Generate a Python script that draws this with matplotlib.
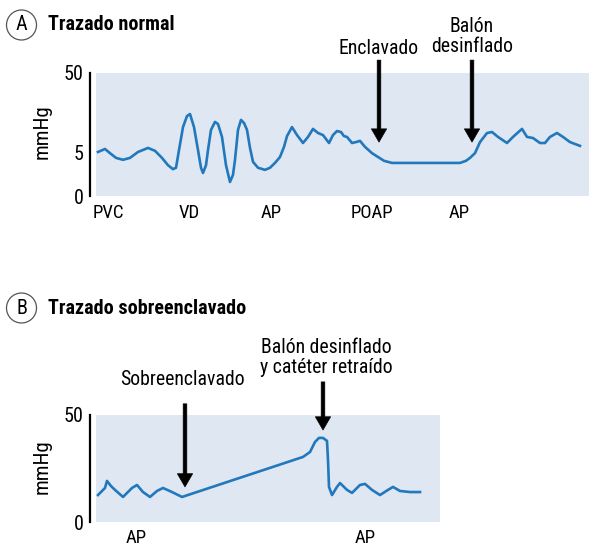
import numpy as np
import matplotlib.pyplot as plt
from matplotlib.patches import Ellipse

plt.rcParams['font.family'] = ['Roboto Condensed', 'PT Sans Narrow', 'DejaVu Sans']

# Normal catheter trace: time (arbitrary units), pressure (mmHg)
t_norm = [2, 9, 14, 20, 27, 34, 42, 52, 59, 66, 72, 77, 80, 83, 87, 91, 94,
          98, 102, 105, 107, 110, 112, 115, 119, 122, 126, 130, 134, 137, 139,
          142, 145, 148, 151, 154, 157, 162, 169, 174, 179, 184, 188, 191, 196,
          201, 207, 212, 217, 222, 227, 233, 237, 241, 245, 248, 251, 256, 260,
          264, 269, 276, 282, 288, 296, 364, 370, 374, 379, 384, 391, 396, 402,
          411, 417, 426, 431, 437, 444, 449, 454, 461, 467, 474, 484]
p_norm = [5.1, 5.9, 4.8, 3.7, 3.3, 3.7, 5.1, 6.2, 5.4, 3.7, 2.3, 1.7, 1.9, 5.6,
          13.8, 19.2, 20.3, 13.8, 5.6, 1.9, 1.2, 2.3, 5.6, 12.6, 16.2, 15.2, 9.8,
          2.3, 0.4, 1.0, 3.3, 12.6, 17.2, 15.7, 12.6, 6.2, 2.9, 1.9, 1.6, 1.9,
          2.7, 3.9, 6.5, 10.1, 13.8, 10.5, 7.7, 9.8, 13.0, 11.3, 10.5, 7.7, 10.5,
          12.1, 11.7, 10.1, 9.8, 7.7, 8.0, 8.4, 6.5, 4.8, 3.9, 3.1, 2.7, 2.7, 3.1,
          3.7, 4.8, 8.0, 11.3, 11.7, 9.8, 7.7, 9.8, 13.0, 9.8, 9.4, 7.7, 7.7, 9.8,
          11.3, 9.8, 8.0, 6.8]
seg_norm = ['PVC', 'VD', 'AP', 'POAP', 'AP']
seg_norm_t = [12, 93, 175, 276, 363]
ev_norm = ['Enclavado', 'Balón\ndesinflado']
ev_norm_t = [283, 376]
ev_norm_p = [8.0, 8.0]

# Over-wedged trace
t_over = [2, 9, 11, 15, 19, 27, 36, 41, 47, 54, 61, 67, 76, 86, 207, 214, 219,
          223, 227, 231, 232, 233, 236, 241, 244, 251, 256, 264, 269, 276, 284,
          292, 297, 304, 314, 324]
p_over = [12.6, 15.9, 19.2, 16.8, 15.0, 11.7, 15.9, 17.3, 14.0, 11.7, 14.5,
          15.9, 14.0, 11.7, 30.4, 32.7, 37.4, 39.3, 39.3, 37.9, 29.0, 16.4, 12.6,
          16.4, 18.2, 15.0, 13.6, 17.3, 17.8, 15.0, 12.6, 15.0, 16.4, 14.5, 14.0,
          14.0]
seg_over = ['AP', 'AP']
seg_over_t = [40, 269]
ev_over = ['Sobreenclavado', 'Balón desinflado\ny catéter retraído']
ev_over_t = [89, 227]
ev_over_p = [16.4, 43.0]

bg = '#dfe7f2'
trace = '#2278bd'
fs = 13.5
fs_ev = 14.2
fs_tick = 14.5

fig = plt.figure(figsize=(5.89, 5.48), dpi=100)
W, H = 589, 548


def px_axes(x0, y0, x1, y1):
    return fig.add_axes([x0 / W, 1 - y1 / H, (x1 - x0) / W, (y1 - y0) / H])


def style(ax):
    ax.set_facecolor(bg)
    for s in ['top', 'right', 'bottom']:
        ax.spines[s].set_visible(False)
    ax.spines['left'].set_position(('outward', 4.3))
    ax.spines['left'].set_linewidth(1.6)
    ax.tick_params(axis='y', length=0, pad=4.5, labelsize=fs_tick)
    ax.set_xticks([])


def events(ax, labels, ts, ps, arrow_len, text_off):
    for lab, t, p, L, (dx, dy) in zip(labels, ts, ps, arrow_len, text_off):
        ax.annotate('', xy=(t, p), xytext=(0, L), textcoords='offset points',
                    arrowprops=dict(facecolor='black', edgecolor='black', lw=0.5,
                                    width=2.6, headwidth=11, headlength=9.5,
                                    shrink=0),
                    annotation_clip=False)
        ax.annotate(lab, xy=(t, p), xytext=(dx, dy), textcoords='offset points',
                    ha='center', va='center', fontsize=fs_ev, linespacing=1.12,
                    annotation_clip=False)


def segments(ax, labels, ts, dy):
    for lab, t in zip(labels, ts):
        ax.annotate(lab, xy=(t, 0), xycoords=('data', 'axes fraction'),
                    xytext=(0, dy), textcoords='offset points',
                    ha='center', va='center', fontsize=fs, annotation_clip=False)


def heading(letter, title, yc):
    fig.add_artist(Ellipse((21.5 / W, 1 - yc / H), 30 / W, 30 / H,
                           transform=fig.transFigure, fill=False,
                           ec='#555555', lw=0.9))
    fig.text(21.5 / W, 1 - yc / H, letter, ha='center', va='center',
             fontsize=14.5)
    fig.text(48 / W, 1 - yc / H, title, ha='left', va='center',
             fontsize=14.5, fontweight='bold')


# A: normal trace
ax1 = px_axes(96, 73, 589, 196)
style(ax1)
ax1.set_yscale('function', functions=(lambda y: np.power(np.clip(y, 0, None), 0.45),
                                      lambda y: np.power(np.clip(y, 0, None), 1 / 0.45)))
ax1.set_ylim(0, 50)
ax1.set_xlim(0, 493)
ax1.set_yticks([0, 5, 50])
ax1.set_yticklabels(['0', '5', '50'])
ax1.yaxis.set_minor_locator(plt.NullLocator())
ax1.plot(t_norm, p_norm, color=trace, lw=1.9, solid_joinstyle='round')
ax1.text(-0.1095, 0.52, 'mmHg', rotation=90, ha='center', va='center',
         fontsize=15, transform=ax1.transAxes)
segments(ax1, seg_norm, seg_norm_t, -12.2)
events(ax1, ev_norm, ev_norm_t, ev_norm_p, [59, 59], [(-0.5, 67.7), (0, 76)])
heading('A', 'Trazado normal', 25)

# B: over-wedged trace
ax2 = px_axes(96, 415, 440, 522)
style(ax2)
ax2.set_ylim(0, 50)
ax2.set_xlim(0, 344)
ax2.set_yticks([0, 50])
ax2.plot(t_over, p_over, color=trace, lw=1.9, solid_joinstyle='round')
ax2.text(-0.157, 0.514, 'mmHg', rotation=90, ha='center', va='center',
         fontsize=15, transform=ax2.transAxes)
segments(ax2, seg_over, seg_over_t, -11.5)
events(ax2, ev_over, ev_over_t, ev_over_p, [59.8, 34.6], [(-2.2, 77), (2.2, 52.2)])
heading('B', 'Trazado sobreenclavado', 308)

fig.savefig('out.png', dpi=100)
